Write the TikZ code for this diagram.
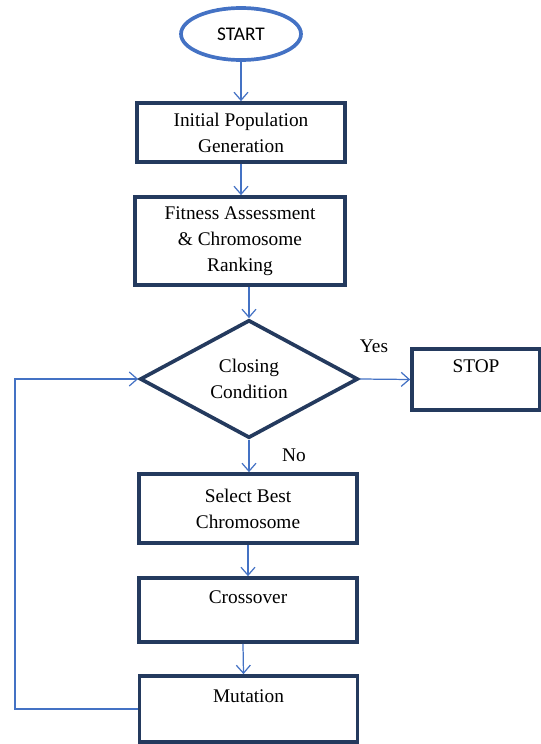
\documentclass[tikz,border=0pt]{standalone}
\usepackage{fontspec}
\setmainfont{Liberation Serif}
\newfontfamily\startfont{Carlito}
\usepackage{xcolor}
\usepackage{tikz}
\usetikzlibrary{arrows.meta,positioning,shapes.geometric}
\definecolor{fcblue}{RGB}{68,114,196}
\definecolor{fcnavy}{RGB}{36,58,94}

\begin{document}
\begin{tikzpicture}[
  font=\fontsize{11}{14.8}\selectfont,
  box/.style={draw=fcnavy, rectangle, minimum width=4.36cm, align=center, line width=2.1pt, inner sep=2pt},
  ell/.style={draw=fcblue, ellipse, minimum width=2.4cm, minimum height=1.04cm, line width=2.1pt, font=\startfont\fontsize{11}{13}\selectfont},
  dia/.style={draw=fcnavy, diamond, aspect=2, minimum width=4.36cm, minimum height=2.36cm, align=center, line width=2.1pt, inner sep=0pt},
  >={Straight Barb[length=1.6mm,width=2.8mm]},
  arrline/.style={->, draw=fcblue, line width=0.7pt},
]
\useasboundingbox (0,0) rectangle (10.82,14.88);

% ============ Start ============
\node[ell] (start) at (4.82,14.2) {START};

% ============ Main column ============
\node[box, minimum width=4.16cm, minimum height=1.18cm] (init) at (4.82,12.23) {Initial Population\\Generation};
\node[box, minimum width=4.2cm, minimum height=1.76cm] (fitness) at (4.8,10.06) {Fitness Assessment\\\& Chromosome\\Ranking};

% ============ Decision ============
\node[dia] (cond) at (4.98,7.3) {Closing\\Condition};
\node (yes) at (7.48,7.96) {Yes};
\node (no) at (5.88,5.78) {No};

% ============ Stop box (right) ============
\node[box, minimum width=2.56cm, minimum height=1.22cm] (stop) at (9.52,7.29) {STOP\\\mbox{}};

% ============ Loop body ============
\node[box, minimum height=1.38cm] (select) at (4.96,4.71) {Select Best\\Chromosome};
\node[box, minimum height=1.28cm] (cross) at (4.96,2.68) {Crossover\\\mbox{}};
\node[box, minimum height=1.32cm] (mutation) at (4.97,0.7) {Mutation\\\mbox{}};

% ===================== ARROWS =====================
\draw[arrline] (start.south) -- (start.south |- init.north);
\draw[arrline] (init.south) -- (init.south |- fitness.north);
\draw[arrline] (cond.north |- fitness.south) -- (cond.north);
\draw[arrline] (cond.east) -- (stop.west);
\draw[arrline] (cond.south) -- (cond.south |- select.north);
\draw[arrline] (select.south) -- (select.south |- cross.north);
\draw[arrline] ([xshift=-0.1cm]cross.south) -- ([xshift=-0.1cm]mutation.north);

% mutation -> back to the closing condition (left loop)
\coordinate (back) at (0.3,0.7);
\draw[arrline] (mutation.west) -- (back) |- (cond.west);

\end{tikzpicture}
\end{document}
